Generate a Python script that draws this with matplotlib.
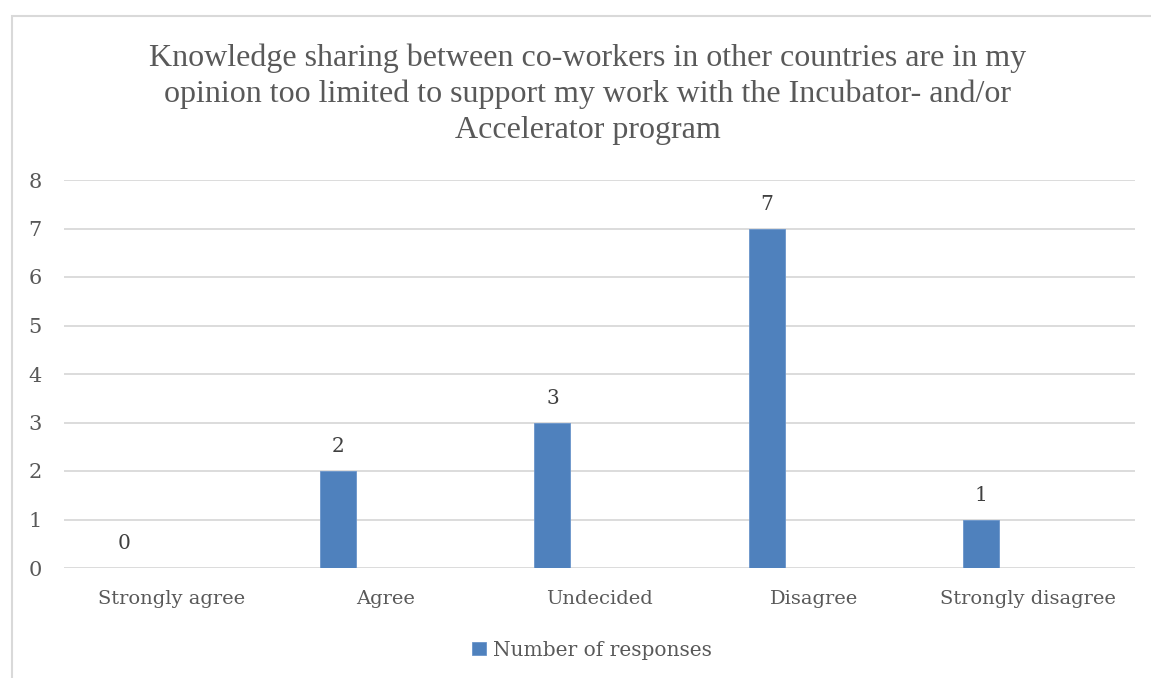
import matplotlib
matplotlib.use("Agg")
import matplotlib.pyplot as plt
from matplotlib.patches import Rectangle

categories = ["Strongly agree", "Agree", "Undecided", "Disagree", "Strongly disagree"]
responses = [0, 2, 3, 7, 1]
series_name = "Number of responses"
title = ("Knowledge sharing between co-workers in other countries are in my\n"
         "opinion too limited to support my work with the Incubator- and/or\n"
         "Accelerator program")

W, H = 1151, 678
fig = plt.figure(figsize=(W / 100, H / 100), dpi=100)
fig.patch.set_facecolor("white")

# chart frame (extends past the right/bottom edge)
fig.patches.append(Rectangle((12 / W, -0.1), 1.2, 1 - 16 / H + 0.1,
                             transform=fig.transFigure, fill=False,
                             edgecolor="#D9D9D9", linewidth=1.5))

ax = fig.add_axes([64 / W, 1 - 568 / H, (1135 - 64) / W, (568 - 180) / H])
text_color = "#595959"
bar_color = "#4F81BD"
title_font = ["Liberation Serif", "DejaVu Serif"]
body_font = ["DejaVu Serif"]

x = list(range(len(categories)))
offset = -0.22
width = 0.168
bars = ax.bar([i + offset for i in x], responses, width=width,
              color=bar_color, edgecolor="#6A95CB", linewidth=0.6,
              label=series_name, zorder=3)
for i, v in zip(x, responses):
    ax.text(i + offset, v + 0.3, str(v), ha="center", va="bottom",
            fontsize=14.5, color="#404040", family=body_font)

ax.set_xlim(-0.5, len(categories) - 0.5)
ax.set_ylim(0, 8)
ax.set_yticks(range(0, 9))
ax.yaxis.grid(True, color="#D9D9D9", linewidth=1.3, zorder=0)
ax.set_axisbelow(True)
for s in ax.spines.values():
    s.set_visible(False)
ax.tick_params(axis="both", length=0, colors=text_color)
ax.tick_params(axis="x", pad=16)
ax.tick_params(axis="y", pad=16)
ax.set_xticks(x)
ax.set_xticklabels(categories, fontsize=14, family=body_font, color=text_color)
for lbl in ax.get_yticklabels():
    lbl.set_fontsize(15)
    lbl.set_family(body_font)
    lbl.set_color(text_color)

fig.text(588 / W, 1 - 94 / H, title, ha="center", va="center",
         fontsize=23, color=text_color, family=title_font, linespacing=1.3)

leg = fig.legend(handles=[bars], labels=[series_name], loc="center",
                 bbox_to_anchor=(592 / W, 1 - 650 / H), frameon=False,
                 prop={"family": body_font, "size": 14.5}, handlelength=0.65,
                 handleheight=0.65, handletextpad=0.35)
for t in leg.get_texts():
    t.set_color(text_color)

fig.savefig("out.png", dpi=100, facecolor="white")
